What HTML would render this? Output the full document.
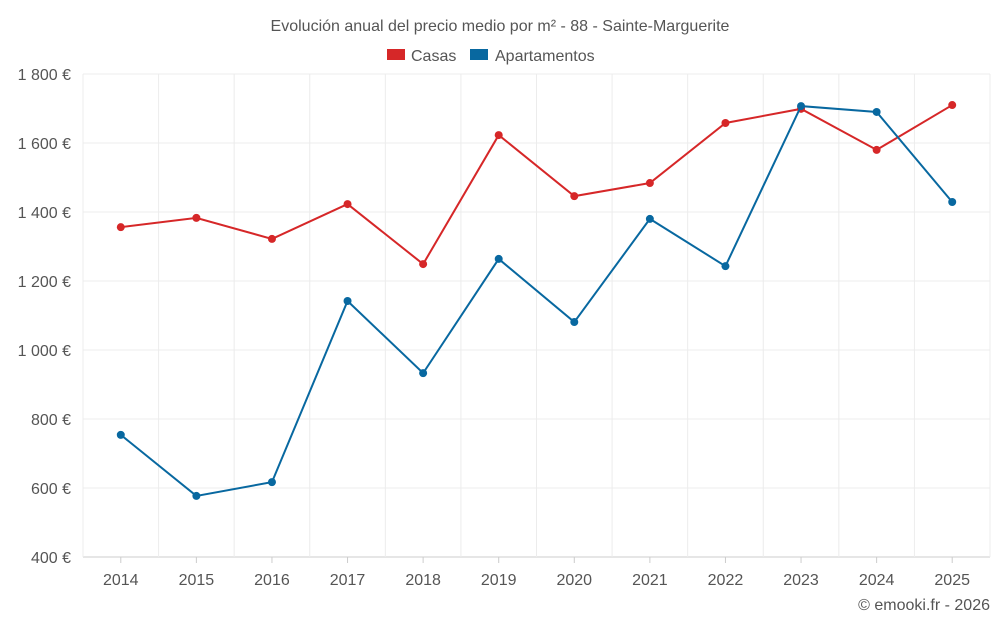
<!DOCTYPE html>
<html><head><meta charset="utf-8"><style>
body{margin:0;background:#fff;font-family:"Liberation Sans",sans-serif;}
svg text{font-family:"Liberation Sans",sans-serif;}
</style></head><body>
<svg id="chart" width="1000" height="625" xmlns="http://www.w3.org/2000/svg">
<text x="500" y="31" text-anchor="middle" font-size="16" fill="#555">Evolución anual del precio medio por m² - 88 - Sainte-Marguerite</text>
<g>
<g><rect x="387" y="49" width="18" height="11" fill="#d62728"/><text x="411" y="61" font-size="16" fill="#555">Casas</text></g>
<g><rect x="470" y="49" width="18" height="11" fill="#0868a0"/><text x="495" y="61" font-size="16" fill="#555">Apartamentos</text></g>
</g>
<g id="grid"></g>
<g id="axes"></g>
<g id="series"></g>
<text x="990" y="610" text-anchor="end" font-size="16" fill="#555">© emooki.fr - 2026</text>
</svg>
<script>
const years=[2014,2015,2016,2017,2018,2019,2020,2021,2022,2023,2024,2025];
const casas=[1356,1383,1322,1423,1249,1623,1446,1484,1658,1699,1580,1710];
const apartamentos=[754,577,617,1142,933,1264,1081,1380,1243,1707,1690,1429];
const yTicks=[400,600,800,1000,1200,1400,1600,1800];
const yTickLabels=["400 €","600 €","800 €","1 000 €","1 200 €","1 400 €","1 600 €","1 800 €"];
const L=83,R=990,T=74,B=557,yMin=400,yMax=1800;
const step=(R-L)/years.length;
const x=i=>L+step*(i+0.5);
const y=v=>B-(v-yMin)/(yMax-yMin)*(B-T);
const NS="http://www.w3.org/2000/svg";
function mk(tag,attrs,parent){const e=document.createElementNS(NS,tag);for(const k in attrs)e.setAttribute(k,attrs[k]);parent.appendChild(e);return e;}
const grid=document.getElementById('grid'),axes=document.getElementById('axes'),series=document.getElementById('series');
yTicks.forEach((t,i)=>{
  const l=mk('line',{x1:L,x2:R,y1:y(t),y2:y(t),stroke:i===0?'#ccc':'#ececec','stroke-width':1},grid);
  
  
  const tx=mk('text',{x:L-12,y:y(t)+6,'text-anchor':'end','font-size':16,fill:'#555'},axes);
  tx.textContent=yTickLabels[i];
  
  
});
for(let i=0;i<=years.length;i++){
  const l=mk('line',{x1:L+step*i,x2:L+step*i,y1:T,y2:B,stroke:'#ececec','stroke-width':1},grid);
  
  
}
years.forEach((yr,i)=>{
  const tk=mk('line',{x1:x(i),x2:x(i),y1:B,y2:B+6,stroke:'#ccc'},axes);
  
  
  const tx=mk('text',{x:x(i),y:585,'text-anchor':'middle','font-size':16,fill:'#555'},axes);
  tx.textContent=yr;
  
  
});
function draw(vals,color,name){
  const p=mk('polyline',{points:vals.map((v,i)=>x(i)+','+y(v)).join(' '),fill:'none',stroke:color,'stroke-width':2},series);
  
  
  vals.forEach((v,i)=>{
    const c=mk('circle',{cx:x(i),cy:y(v),r:4,fill:color},series);
    
    
  });
}
draw(casas,'#d62728','casas');
draw(apartamentos,'#0868a0','apartamentos');
</script>
</body></html>
